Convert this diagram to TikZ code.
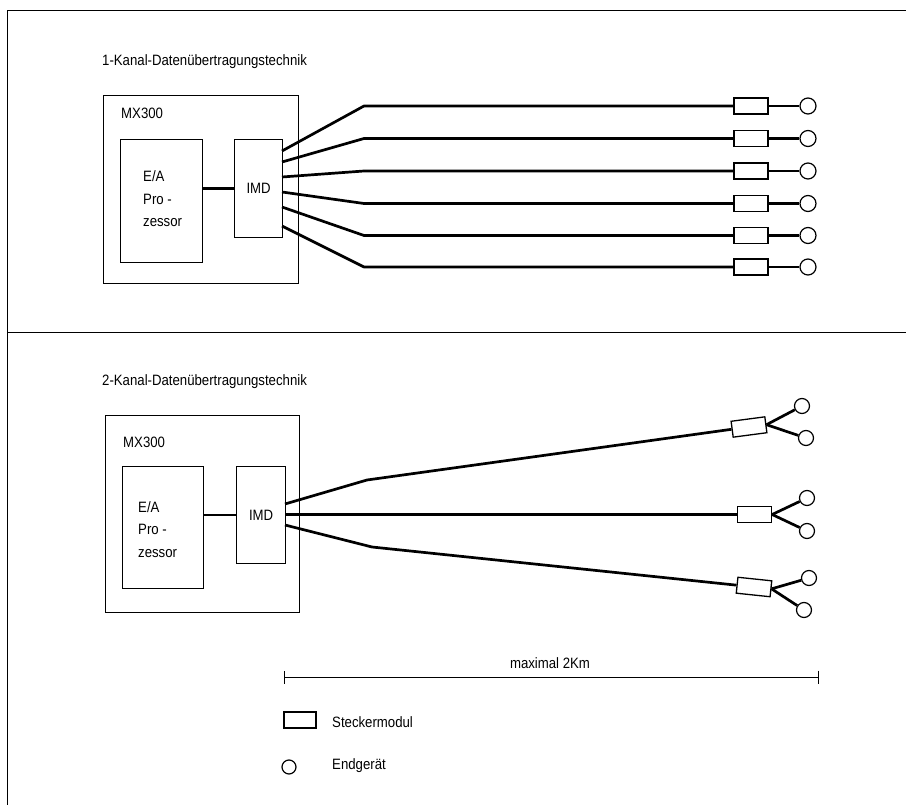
\documentclass[tikz,border=0pt]{standalone}
\usepackage{fontspec}
\setmainfont{Liberation Sans}[FakeStretch=0.88]
\usetikzlibrary{calc,arrows.meta}
\begin{document}
\begin{tikzpicture}[x=1pt,y=-1pt,
  frame/.style={line width=0.9pt},
  box/.style={draw, line width=1.2pt, inner sep=0pt, anchor=north west},
  stecker/.style={draw, line width=1.3pt, minimum width=34pt, minimum height=16pt, inner sep=0pt},
  endg/.style={draw, circle, line width=1.2pt, minimum size=16pt, inner sep=0pt},
  fan/.style={line width=2.7pt, line join=round},
  link/.style={line width=2.2pt},
  lbl/.style={font=\fontsize{15}{22.5}\selectfont, inner sep=0pt, anchor=west},
]
\useasboundingbox (0,0) rectangle (906,805);

% frame
\draw[frame] (906,10) -- (7,10) -- (7,805);
\draw[frame] (7,332) -- (906,332);

% ---------- top section ----------
\node[lbl] (t1) at (102,62) {1-Kanal-Datenübertragungstechnik};
\node[box, minimum width=195pt, minimum height=188pt] (mx1) at (103,95) {};
\node[lbl] (mxl1) at (121,113) {MX300};
\node[box, minimum width=82pt, minimum height=123pt] (ea1) at (120,139) {};
\node[lbl, align=left] (eal1) at (143,199) {E/A\\Pro -\\zessor};
\node[box, minimum width=48pt, minimum height=98pt] (imd1) at (234,139) {};
\node[lbl, anchor=center] (imdl1) at (imd1.center) {IMD};
\draw[link] (imd1.west) -- (imd1.west -| ea1.east);

\foreach \i/\ys/\yr in {1/151/106, 2/162/138.5, 3/177/171, 4/192/203.5, 5/207/235.5, 6/226/267}{
  \coordinate (f\i) at (282,\ys);
  \coordinate (b\i) at (364,\yr);
  \node[stecker] (st\i) at (751,\yr) {};
  \node[endg] (eg\i) at (808,\yr) {};
  \draw[fan] (f\i) -- (b\i) -- (st\i.west);
  \draw[link] (st\i.east) -- (eg\i);
}

% ---------- bottom section ----------
\node[lbl] (t2) at (102,382) {2-Kanal-Datenübertragungstechnik};
\node[box, minimum width=194pt, minimum height=197pt] (mx2) at (105,415) {};
\node[lbl] (mxl2) at (123,442) {MX300};
\node[box, minimum width=81pt, minimum height=122pt] (ea2) at (122,466) {};
\node[lbl, align=left] (eal2) at (138,529.5) {E/A\\Pro -\\zessor};
\node[box, minimum width=49pt, minimum height=97pt] (imd2) at (236,466) {};
\node[lbl, anchor=center] (imdl2) at (imd2.center) {IMD};
\draw[link] (imd2.west) -- (imd2.west -| ea2.east);

\coordinate (ga) at (285,504);
\coordinate (gb) at (285,514.5);
\coordinate (gc) at (285,525);
\coordinate (ka) at (367,480);
\coordinate (kc) at (372,547);
\node[stecker, rotate=7.5] (sa) at (749,427) {};
\node[stecker] (sb) at (754.5,514.5) {};
\node[stecker, rotate=-6] (sc) at (754,587) {};
\node[endg, minimum size=15pt] (ea) at (802,406) {};
\node[endg, minimum size=15pt] (eb) at (806,438) {};
\node[endg, minimum size=15pt] (ec) at (807,498) {};
\node[endg, minimum size=15pt] (ed) at (807,531) {};
\node[endg, minimum size=15pt] (ee) at (809,578) {};
\node[endg, minimum size=15pt] (ef) at (804,610) {};
\draw[fan] (ga) -- (ka) -- (sa.west);
\draw[fan] (gb) -- (sb.west);
\draw[fan] (gc) -- (kc) -- (sc.west);
\draw[fan] (sa.east) -- (ea);
\draw[fan] (sa.east) -- (eb);
\draw[fan] (sb.east) -- (ec);
\draw[fan] (sb.east) -- (ed);
\draw[fan] (sc.east) -- (ee);
\draw[fan] (sc.east) -- (ef);

% ---------- legend ----------
\coordinate (bl) at (284,677);
\coordinate (br) at (819,677);
\draw[line width=1pt, {Bar[width=13pt,line width=1.2pt]}-{Bar[width=13pt,line width=1.2pt]}] (bl) -- (br);
\node[lbl, anchor=center] (maxl) at (550,663) {maximal 2Km};
\node[stecker, minimum width=32pt] (legs) at (300,720) {};
\node[lbl] (legsl) at (332,722) {Steckermodul};
\node[endg, minimum size=14pt] (lege) at (289,767) {};
\node[lbl] (legel) at (332,766) {Endgerät};
\end{tikzpicture}
\end{document}
